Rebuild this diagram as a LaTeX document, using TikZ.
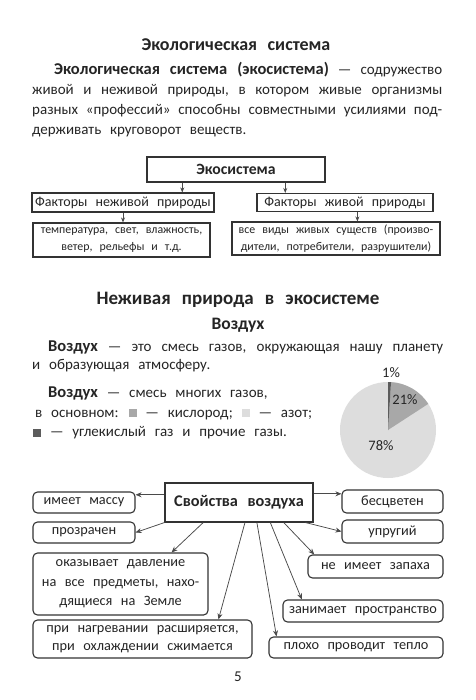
\documentclass[tikz,border=0pt]{standalone}
\usepackage{fontspec}
\setmainfont[WordSpace=2.6]{Carlito}
\usetikzlibrary{arrows.meta,calc,positioning}
\definecolor{pageink}{HTML}{252525}
\definecolor{boxline}{HTML}{333333}
\definecolor{flowline}{HTML}{4A4A4A}
\definecolor{airlight}{HTML}{DDDDDD}
\definecolor{airmid}{HTML}{A8A8A8}
\definecolor{airdark}{HTML}{5C5C5C}
\newcommand{\legsq}[1]{\textcolor{#1}{\rule{8pt}{8pt}}}
\newcommand{\termbf}[1]{{\fontsize{16.5}{20}\selectfont\bfseries #1}}
\tikzset{
  pagetext/.style={font=\fontsize{15}{20}\selectfont, text=pageink, inner sep=0pt},
  headtext/.style={font=\fontsize{18}{20}\selectfont\bfseries, text=pageink, inner sep=0pt},
  subhead/.style={font=\fontsize{17.5}{18}\selectfont\bfseries, text=pageink, inner sep=0pt},
  pietext/.style={font=\fontsize{14.5}{16}\selectfont, text=pageink, inner sep=0pt},
  ecobox/.style={draw=boxline, line width=1.1pt, text=pageink, align=center, inner sep=1pt},
  propbox/.style={ecobox, rounded corners=4.5pt, font=\fontsize{14.3}{19.5}\selectfont},
  ecoflow/.style={-{Stealth[length=5pt,width=4pt]}, draw=flowline, line width=.75pt},
  propflow/.style={-{Stealth[length=6pt,width=5pt]}, draw=flowline, line width=.75pt}
}

\begin{document}
\begin{tikzpicture}[x=1pt,y=-1pt]
  \useasboundingbox[fill=white] (0,0) rectangle (475,700);

  % ecosystem definition
  \node[headtext] (ecotitle) at (236,45) {Экологическая система};
  \node[pagetext, text width=410pt, align=justify, anchor=north west] (ecodef) at (32,62)
    {\hspace*{22pt}\termbf{Экологическая система (экосистема)} — содружество\linebreak
     живой и неживой природы, в котором живые организмы\linebreak
     разных «профессий» способны совместными усилиями под-\linebreak
     держивать круговорот веществ.};

  \node[ecobox, font=\fontsize{15.7}{18}\selectfont\bfseries, minimum width=178pt, minimum height=25pt] (eco) at (236,169.5) {Экосистема};
  \node[ecobox, font=\fontsize{14}{16}\selectfont, minimum width=182pt, minimum height=19pt] (abio) at (123,202.5) {Факторы неживой природы};
  \node[ecobox, font=\fontsize{14}{16}\selectfont, minimum width=176pt, minimum height=18pt] (bio) at (345,202.5) {Факторы живой природы};
  \node[ecobox, font=\fontsize{11.9}{16.5}\selectfont, minimum width=177pt, minimum height=34pt] (abioex) at (121.5,240)
    {температура, свет, влажность,\\ветер, рельефы и т.д.};
  \node[ecobox, font=\fontsize{11.9}{16.5}\selectfont, minimum width=208pt, minimum height=33pt] (bioex) at (336,238.5)
    {все виды живых существ (произво-\\дители, потребители, разрушители)};

  \coordinate (ecoL) at ($(eco.south west)!.2!(eco.south east)$);
  \coordinate (ecoR) at ($(eco.south west)!.775!(eco.south east)$);
  \coordinate (bioD) at ($(bio.south west)!.57!(bio.south east)$);
  \draw[ecoflow] (ecoL) -- (ecoL |- abio.north);
  \draw[ecoflow] (ecoR) -- (ecoR |- bio.north);
  \draw[ecoflow] (abio.south) -- (abio.south |- abioex.north);
  \draw[ecoflow] (bioD) -- (bioD |- bioex.north);

  % air
  \node[headtext, font=\fontsize{19}{20}\selectfont\bfseries] (inanim) at (238,300) {Неживая природа в экосистеме};
  \node[subhead] (airhead) at (238,325) {Воздух};
  \node[pagetext, font=\fontsize{15}{18}\selectfont, text width=411pt, align=justify, anchor=north west] (airdef) at (32,341)
    {\hspace*{16pt}\termbf{Воздух} — это смесь газов, окружающая нашу планету\linebreak
     и образующая атмосферу.};
  \node[pagetext, font=\fontsize{15}{19.5}\selectfont, align=left, anchor=north west] (airmix) at (33,387)
    {\hspace*{15pt}\termbf{Воздух} — смесь многих газов,\\
     \hspace*{2pt}в основном: \legsq{airmid} — кислород; \legsq{airlight} — азот;\\
     \legsq{airdark} — углекислый газ и прочие газы.};

  \coordinate (pie) at (388,430);
  \fill[airlight] (pie) circle[radius=48];
  \fill[airmid] (pie) -- ++(-86.4:48) arc[start angle=-86.4, end angle=-33, radius=48] -- cycle;
  \fill[airdark] (pie) -- ++(-90:48) arc[start angle=-90, end angle=-86.4, radius=48] -- cycle;
  \node[pietext] (pctco) at (391,373) {1\%};
  \node[pietext] (pctox) at (405,400) {21\%};
  \node[pietext] (pctn) at (381,446) {78\%};

  % properties of air
  \node[ecobox, font=\fontsize{16.3}{18}\selectfont\bfseries, minimum width=148pt, minimum height=39pt] (props) at (239,502.5) {Свойства воздуха};
  \node[propbox, minimum width=102pt, minimum height=21pt] (airmass) at (84,502.5) {имеет массу};
  \node[propbox, minimum width=102pt, minimum height=21pt] (airclear) at (84,532.5) {прозрачен};
  \node[propbox, minimum width=175pt, minimum height=62pt] (airpress) at (120.5,584)
    {оказывает давление\\на все предметы, нахо-\\дящиеся на Земле};
  \node[propbox, font=\fontsize{14.3}{18}\selectfont, minimum width=219pt, minimum height=38pt] (airheat) at (142.5,639)
    {при нагревании расширяется,\\при охлаждении сжимается};
  \node[propbox, minimum width=101pt, minimum height=23pt] (aircolour) at (392.5,501.5) {бесцветен};
  \node[propbox, minimum width=101pt, minimum height=23pt] (airelastic) at (392.5,531.5) {упругий};
  \node[propbox, minimum width=135pt, minimum height=23pt] (airsmell) at (375.5,566.5) {не имеет запаха};
  \node[propbox, minimum width=160pt, minimum height=22pt] (airvolume) at (363,611) {занимает пространство};
  \node[propbox, minimum width=174pt, minimum height=21pt] (aircond) at (356,647.5) {плохо проводит тепло};

  \coordinate (massin) at ($(airmass.north east)!.15!(airmass.south east)$);
  \coordinate (colourin) at ($(aircolour.north west)!.18!(aircolour.south west)$);
  \draw[propflow] (massin -| props.west) -- (massin);
  \draw[propflow] (colourin -| props.east) -- (colourin);
  \draw[propflow] (props.south west) -- (airclear.east);
  \draw[propflow] ($(props.south west)!.946!(props.south east)$) -- (airelastic.west);
  \foreach \from/\to/\at in {.26/airpress/.79, .54/airheat/.845, .62/aircond/.046, .71/airvolume/.12, .80/airsmell/.05}
    \draw[propflow] ($(props.south west)!\from!(props.south east)$) -- ($(\to.north west)!\at!(\to.north east)$);

  \node[pagetext] (pagenum) at (238,677) {5};
\end{tikzpicture}
\end{document}
